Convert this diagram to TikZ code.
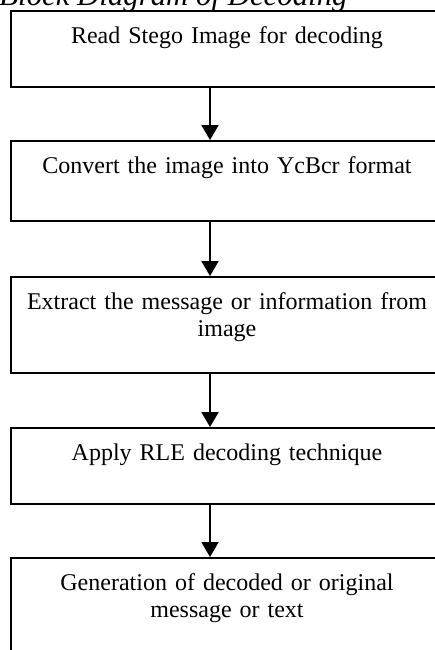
\documentclass[tikz,border=0pt]{standalone}
\usepackage{fontspec}
\setmainfont{Liberation Serif}
\usetikzlibrary{arrows.meta}

\begin{document}
\begin{tikzpicture}[x=0.5pt, y=-0.5pt,
    stepbox/.style={draw, line width=1pt, anchor=north west, inner xsep=7.2pt, inner ysep=0pt,
        text width=201.6pt, align=center, text height=16pt, font=\fontsize{12}{13.8}\selectfont},
    flow/.style={line width=1pt, -{Triangle[length=7.5pt, width=8.5pt]}}]
    \useasboundingbox (0,0) rectangle (435,650);
    \clip (0,0) rectangle (435,650);

    % Title
    \node[anchor=base west, inner sep=0pt, font=\fontsize{15.4}{17}\selectfont\itshape] (title) at (-1,5.5) {Block Diagram of Decoding};

    % Steps
    \node[stepbox, text depth=22pt] (s1) at (10,10) {Read Stego Image for decoding};
    \node[stepbox, text depth=24pt] (s2) at (10,140) {Convert the image into YcBcr format};
    \node[stepbox, text depth=32pt] (s3) at (10,276) {Extract the message or information from\\ image};
    \node[stepbox, text depth=22pt] (s4) at (10,427) {Apply RLE decoding technique};
    \node[stepbox, text depth=60pt] (s5) at (10,557) {Generation of decoded or original\\ message or text};

    % Arrows between the steps
    \coordinate (ax) at (210,0);
    \foreach \i/\j in {1/2,2/3,3/4,4/5}
        \draw[flow] (s\i.south -| ax) -- (s\j.north -| ax);
\end{tikzpicture}
\end{document}
